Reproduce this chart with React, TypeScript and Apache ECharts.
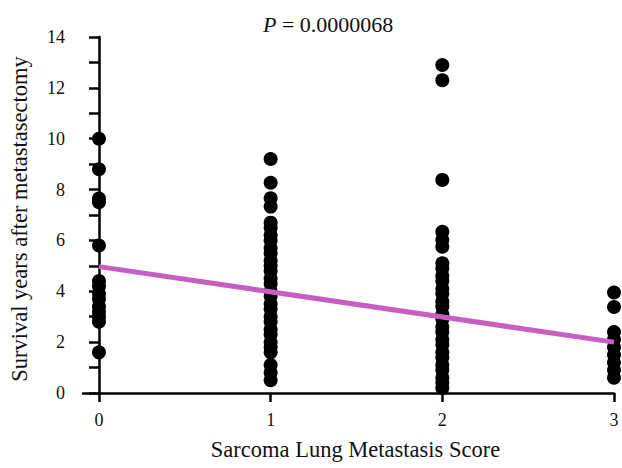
import React, { useEffect, useRef } from "react";
import * as echarts from "echarts";

const scoreTicks = [0, 1, 2, 3];
const score0 = [10.0, 8.8, 7.65, 7.5, 5.8, 4.4, 4.2, 3.9, 3.7, 3.4, 3.2, 3.0, 2.8, 1.6];
const score1 = [
  9.2, 8.27, 7.66, 7.33, 6.7, 6.5, 6.2, 6.0, 5.7, 5.5, 5.2, 5.0, 4.8, 4.5, 4.3, 4.0,
  3.8, 3.5, 3.3, 3.0, 2.8, 2.5, 2.3, 2.0, 1.8, 1.6, 1.1, 0.8, 0.5,
];
const score2 = [
  12.9, 12.3, 8.38, 6.34, 6.02, 5.75, 5.1, 4.9, 4.6, 4.4, 4.1, 3.9, 3.6, 3.4, 3.1, 2.9,
  2.6, 2.4, 2.1, 1.9, 1.6, 1.4, 1.1, 0.9, 0.6, 0.4, 0.2,
];
const score3 = [3.95, 3.38, 2.4, 2.1, 1.8, 1.5, 1.2, 0.9, 0.6];
const fitLine = [
  [0, 4.97],
  [3, 2.0],
];
const pTitle = "0.0000068";

const FONT = "'Liberation Serif', 'Times New Roman', serif";

export default function App() {
  const ref = useRef<HTMLDivElement>(null);
  useEffect(() => {
    if (!ref.current) return;
    const chart = echarts.init(ref.current, null, { renderer: "svg" });
    const points: number[][] = [];
    [score0, score1, score2, score3].forEach((arr, i) => arr.forEach((v) => points.push([i, v])));
    chart.setOption({
      animation: false,
      backgroundColor: "#ffffff",
      textStyle: { fontFamily: FONT },
      title: {
        text: "{i|P} = " + pTitle,
        left: 258,
        top: 8,
        textStyle: {
          fontFamily: FONT,
          fontSize: 22,
          fontWeight: "normal",
          color: "#111",
          rich: {
            i: { fontFamily: FONT, fontSize: 22, fontStyle: "italic", color: "#111" },
          },
        },
      },
      grid: { left: 83, right: 8, top: 37, bottom: 75, outerBoundsMode: "none", containLabel: false },
      xAxis: {
        type: "value",
        min: -0.093,
        max: 3,
        name: "Sarcoma Lung Metastasis Score",
        nameLocation: "middle",
        nameGap: 45,
        nameTextStyle: { fontFamily: FONT, fontSize: 22.5, color: "#111", padding: [0, 0, 0, 14] },
        axisLine: { show: true, lineStyle: { color: "#000", width: 2.5 } },
        axisTick: { show: true, length: 9, customValues: scoreTicks, lineStyle: { color: "#000", width: 2.5 } },
        axisLabel: { customValues: scoreTicks, fontFamily: FONT, fontSize: 18, color: "#111", margin: 18 },
        splitLine: { show: false },
      },
      yAxis: {
        type: "value",
        min: 0,
        max: 14,
        interval: 2,
        name: "Survival years after metastasectomy",
        nameLocation: "middle",
        nameGap: 52,
        nameTextStyle: { fontFamily: FONT, fontSize: 22.5, color: "#111", padding: [0, 8, 0, 0] },
        axisLine: { show: true, lineStyle: { color: "#000", width: 2.5 } },
        axisTick: { show: true, length: 10, lineStyle: { color: "#000", width: 2.5 } },
        minorTick: { show: true, splitNumber: 2, length: 10, lineStyle: { color: "#000", width: 2.5 } },
        axisLabel: { fontFamily: FONT, fontSize: 18, color: "#111", margin: 18 },
        splitLine: { show: false },
      },
      series: [
        {
          type: "scatter",
          data: points,
          symbol: "circle",
          symbolSize: 14,
          clip: false,
          itemStyle: { color: "#000", opacity: 1 },
          z: 2,
        },
        {
          type: "line",
          data: fitLine,
          symbol: "none",
          lineStyle: { color: "#c65fc2", width: 5 },
          z: 3,
        },
      ],
    });
    return () => chart.dispose();
  }, []);
  return <div ref={ref} style={{ width: 622, height: 468, position: "absolute", left: 0, top: 0 }} />;
}
